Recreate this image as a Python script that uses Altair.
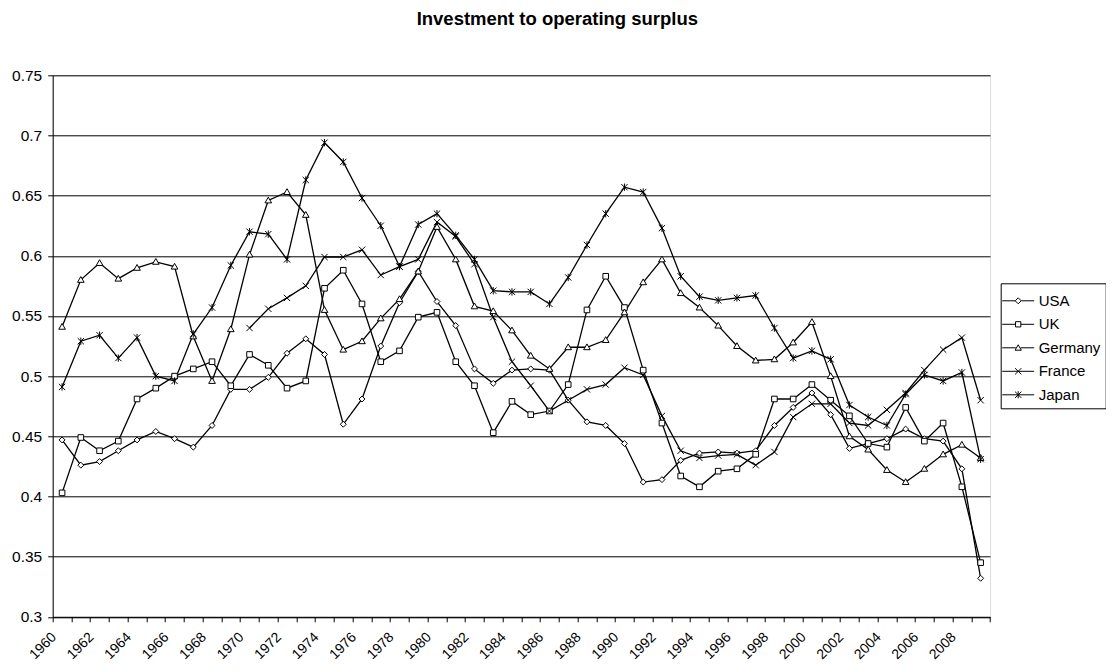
import altair as alt
import pandas as pd

years = list(range(1960, 2010))
countries = ["USA", "UK", "Germany", "France", "Japan"]

usa = [0.447, 0.426, 0.429, 0.438, 0.447, 0.454, 0.448, 0.441, 0.459, 0.489,
       0.489, 0.499, 0.519, 0.531, 0.518, 0.460, 0.481, 0.525, 0.561, 0.587,
       0.562, 0.542, 0.506, 0.494, 0.505, 0.506, 0.505, 0.480, 0.462, 0.459,
       0.444, 0.412, 0.414, 0.430, 0.436, 0.437, 0.436, 0.438, 0.459, 0.474,
       0.486, 0.468, 0.440, 0.444, 0.448, 0.456, 0.448, 0.446, 0.423, 0.332]
uk = [0.403, 0.449, 0.438, 0.446, 0.481, 0.490, 0.500, 0.506, 0.512, 0.492,
      0.518, 0.509, 0.490, 0.496, 0.573, 0.588, 0.560, 0.512, 0.521, 0.549,
      0.553, 0.512, 0.492, 0.453, 0.479, 0.468, 0.471, 0.493, 0.555, 0.583,
      0.557, 0.505, 0.461, 0.417, 0.408, 0.421, 0.423, 0.435, 0.481, 0.481,
      0.493, 0.480, 0.467, 0.444, 0.441, 0.474, 0.446, 0.461, 0.408, 0.345]
germany = [0.541, 0.580, 0.594, 0.581, 0.590, 0.595, 0.591, 0.533, 0.496, 0.539,
           0.601, 0.646, 0.653, 0.634, 0.555, 0.522, 0.529, 0.548, 0.564, 0.587,
           0.624, 0.597, 0.558, 0.554, 0.538, 0.517, 0.506, 0.524, 0.524, 0.530,
           0.553, 0.578, 0.597, 0.569, 0.557, 0.542, 0.525, 0.513, 0.514, 0.528,
           0.545, 0.500, 0.450, 0.439, 0.422, 0.412, 0.423, 0.435, 0.443, 0.432]
france = [None, None, None, None, None, None, None, None, None, None,
          0.540, 0.556, 0.565, 0.575, 0.599, 0.599, 0.605, 0.584, 0.591, 0.597,
          0.628, 0.616, 0.593, 0.549, 0.512, 0.492, 0.471, 0.480, 0.489, 0.493,
          0.507, 0.501, 0.467, 0.438, 0.432, 0.434, 0.435, 0.426, 0.437, 0.466,
          0.477, 0.477, 0.461, 0.459, 0.472, 0.486, 0.505, 0.522, 0.532, 0.480]
japan = [0.491, 0.529, 0.534, 0.515, 0.532, 0.500, 0.496, 0.535, 0.557, 0.592,
         0.620, 0.618, 0.597, 0.663, 0.694, 0.678, 0.648, 0.625, 0.591, 0.626,
         0.635, 0.617, 0.597, 0.571, 0.570, 0.570, 0.560, 0.582, 0.609, 0.635,
         0.657, 0.653, 0.623, 0.583, 0.566, 0.563, 0.565, 0.567, 0.540, 0.515,
         0.521, 0.514, 0.476, 0.466, 0.459, 0.485, 0.501, 0.496, 0.503, 0.431]

y_ticks = [0.3, 0.35, 0.4, 0.45, 0.5, 0.55, 0.6, 0.65, 0.7, 0.75]
x_label_years = list(range(1960, 2009, 2))

rows = []
for name, vals in zip(countries, [usa, uk, germany, france, japan]):
    for yr, v in zip(years, vals):
        if v is not None:
            rows.append({"year": yr, "country": name, "value": v})
df = pd.DataFrame(rows)

FONT = "Liberation Sans"
FS = 15.5

# marker shapes (unit coords, scaled by sqrt(size)/2)
marker_paths = [
    "M0,-0.85L0.85,0L0,0.85L-0.85,0Z",
    "M-0.8,-0.8L0.8,-0.8L0.8,0.8L-0.8,0.8Z",
    "M0,-0.95L0.95,0.7L-0.95,0.7Z",
    "M-0.9,-0.9L0.9,0.9M-0.9,0.9L0.9,-0.9",
    "M-0.9,-0.9L0.9,0.9M-0.9,0.9L0.9,-0.9M0,-1.05L0,1.05",
]
# legend symbols: a line with the marker in its middle (size 576 -> unit = 12px)
legend_paths = [
    "M-1.33,0L-0.27,0M0.27,0L1.33,0M0,-0.25L0.25,0L0,0.25L-0.25,0Z",
    "M-1.33,0L-0.22,0M0.22,0L1.33,0M-0.22,-0.22L0.22,-0.22L0.22,0.22L-0.22,0.22Z",
    "M-1.33,0L-0.2,0M0.2,0L1.33,0M0,-0.25L0.26,0.2L-0.26,0.2Z",
    "M-1.33,0L1.33,0M-0.26,-0.26L0.26,0.26M-0.26,0.26L0.26,-0.26",
    "M-1.33,0L1.33,0M-0.26,-0.26L0.26,0.26M-0.26,0.26L0.26,-0.26M0,-0.3L0,0.3",
]

tick_vals = [y - 0.5 for y in years] + [years[-1] + 0.5]
label_list = ",".join(str(v) for v in x_label_years)
label_expr = f"indexof([{label_list}], datum.value + 0.5) >= 0 ? '' + (datum.value + 0.5) : ''"

x_enc = alt.X(
    "year:Q",
    scale=alt.Scale(domain=[years[0] - 0.5, years[-1] + 0.5], nice=False, zero=False),
    axis=alt.Axis(
        values=tick_vals, tickCount=len(tick_vals) + 10, labelExpr=label_expr,
        labelAngle=-45, labelAlign="right", labelBaseline="top",
        labelOffset=-4, labelPadding=8, tickSize=5,
        labelOverlap=False, labelFlush=False, labelBound=False, grid=False,
        title=None, labelFont=FONT, labelFontSize=14, labelColor="black",
        domainColor="black", tickColor="black",
    ),
)
y_enc = alt.Y(
    "value:Q",
    scale=alt.Scale(domain=[0.3, 0.75], nice=False, zero=False),
    axis=alt.Axis(
        values=y_ticks, tickCount=len(y_ticks) + 5, format=".2~f", grid=True,
        gridColor="black", gridWidth=1,
        tickSize=5, labelPadding=6, title=None, labelFont=FONT, labelFontSize=FS,
        labelColor="black", domainColor="black", tickColor="black",
    ),
)

base = alt.Chart(df)

lines = base.mark_line(color="black", strokeWidth=1.3).encode(
    x=x_enc, y=y_enc, detail="country:N",
)

points = base.mark_point(
    filled=True, fill="white", stroke="black", strokeWidth=1, size=49, opacity=1,
).encode(
    x="year:Q", y="value:Q",
    shape=alt.Shape("country:N", scale=alt.Scale(domain=countries, range=marker_paths), legend=None),
)

legend_layer = base.transform_filter("false").mark_point(
    filled=False, color="black", strokeWidth=1, size=576, opacity=1,
).encode(
    x="year:Q", y="value:Q",
    shape=alt.Shape(
        "country:N",
        scale=alt.Scale(domain=countries, range=legend_paths),
        legend=alt.Legend(
            orient="none", legendX=948, legendY=208, title=None,
            labelFont=FONT, labelFontSize=15, labelColor="black",
            strokeColor="black", fillColor="white", padding=5,
            symbolSize=576, symbolStrokeWidth=1,
            symbolStrokeColor="black", symbolOpacity=1,
            rowPadding=2.5, labelOffset=8,
        ),
    ),
)

chart = alt.layer(lines, points, legend_layer).resolve_scale(shape="independent").properties(
    width=937.3,
    height=541.5,
    autosize=alt.AutoSizeParams(type="none"),
    padding={"left": 44.7, "top": 67.3, "right": 116, "bottom": 46},
    title=alt.Title(
        "Investment to operating surplus", font=FONT, fontSize=18.5, fontWeight="bold",
        color="black", anchor="middle", dx=36, offset=25, baseline="alphabetic",
    ),
).configure_view(stroke="#808080", strokeWidth=1).configure(background="white")

chart.save("out.html", embed_options={"renderer": "svg", "actions": False})
